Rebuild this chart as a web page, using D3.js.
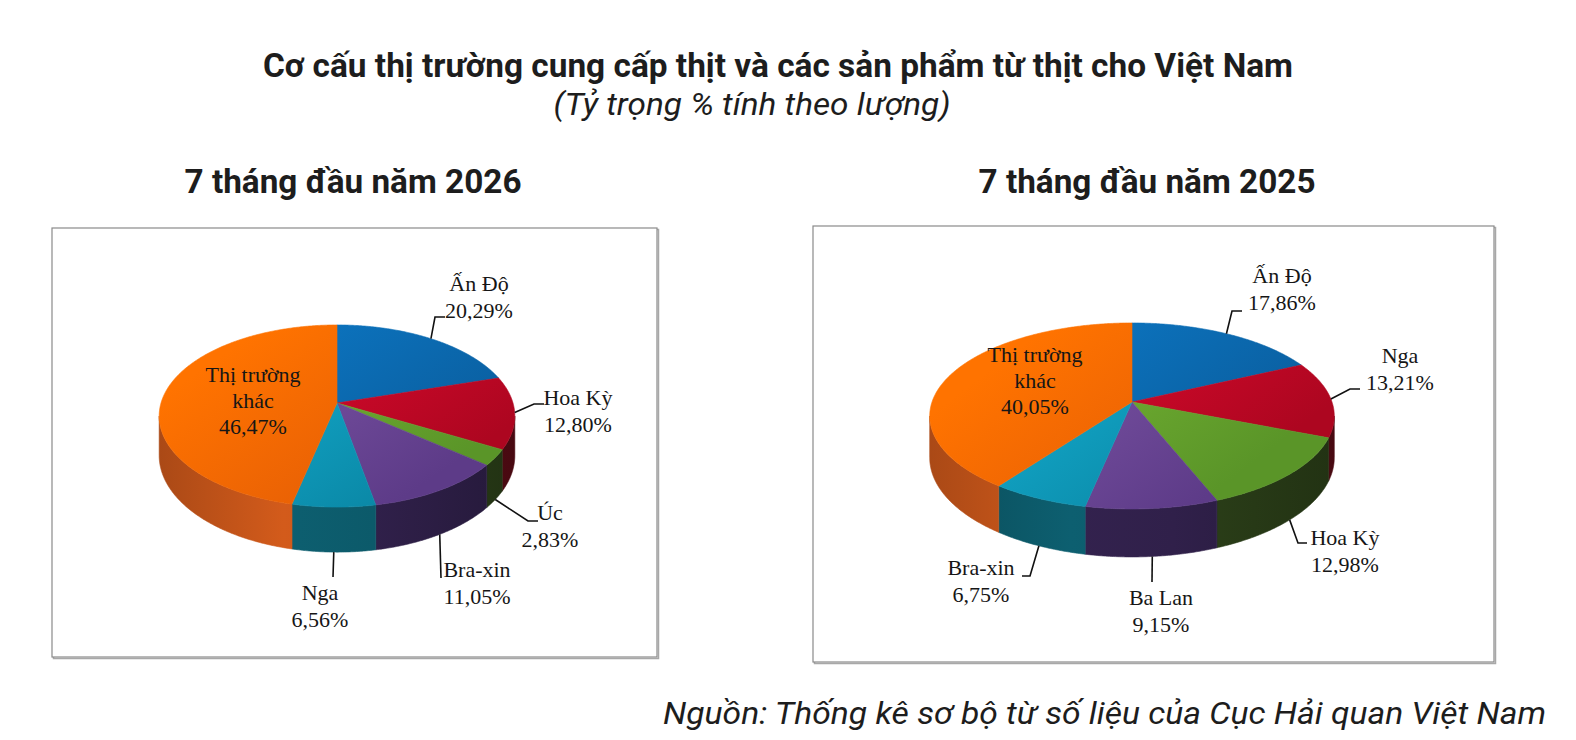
<!DOCTYPE html>
<html>
<head>
<meta charset="utf-8">
<script src="https://cdn.jsdelivr.net/npm/d3@7"></script>
<style>
  html, body { margin: 0; padding: 0; background: #fff; }
  svg { display: block; }
</style>
</head>
<body>
<svg id="chart" width="1576" height="740"></svg>
<script>
// ---------------- DATA ----------------
const chartTitle = "Cơ cấu thị trường cung cấp thịt và các sản phẩm từ thịt cho Việt Nam";
const chartSubtitle = "(Tỷ trọng % tính theo lượng)";
const sourceText = "Nguồn: Thống kê sơ bộ từ số liệu của Cục Hải quan Việt Nam";

const period2026 = "7 tháng đầu năm 2026";
const categories2026 = ["Ấn Độ", "Hoa Kỳ", "Úc", "Bra-xin", "Nga", "Thị trường khác"];
const values2026 = [20.29, 12.80, 2.83, 11.05, 6.56, 46.47];
const colors2026 = ["blue", "red", "green", "purple", "cyan", "orange"];

const period2025 = "7 tháng đầu năm 2025";
const categories2025 = ["Ấn Độ", "Nga", "Hoa Kỳ", "Ba Lan", "Bra-xin", "Thị trường khác"];
const values2025 = [17.86, 13.21, 12.98, 9.15, 6.75, 40.05];
const colors2025 = ["blue", "red", "green", "purple", "cyan", "orange"];

// ---------------- STYLE / LAYOUT ----------------
const palette = {
  blue:   { top0: "#0c76c2", top1: "#0a5c9c", side: "#0a3d6a" },
  red:    { top0: "#dc0a2e", top1: "#ad0620", side: "#5c0c16" },
  green:  { top0: "#76b434", top1: "#5a9528", side: "#2c4019" },
  purple: { top0: "#7c55a5", top1: "#5d3b88", side: "#30204a" },
  cyan:   { top0: "#14acce", top1: "#0a87a5", side: "#0c5a6a" },
  orange: { top0: "#ff7300", top1: "#e35c06", side: "#c8561a" }
};

const pies = [
  {
    id: "p26", title: period2026, titleX: 353, categories: categories2026, values: values2026, colors: colors2026,
    box: [52, 228, 657, 657],
    geo: { cx: 337, cy: 403, rx: 176, ry: 89.2, k: 0.143, depth: 38.6 },
    labels: [
      { tx: 479, ty: 291, elbow: [435, 317], end: [445, 317] },
      { tx: 578, ty: 405, elbow: [534, 404], end: [544, 404] },
      { tx: 550, ty: 520, elbow: [528, 521], end: [538, 521] },
      { tx: 477, ty: 577, elbow: null, end: [441, 578] },
      { tx: 320, ty: 600, elbow: null, end: [333, 577] },
      { tx: 253, ty: 382, inside: true }
    ]
  },
  {
    id: "p25", title: period2025, titleX: 1147, categories: categories2025, values: values2025, colors: colors2025,
    box: [813, 226, 1494, 662],
    geo: { cx: 1132, cy: 402, rx: 200, ry: 90.9, k: 0.150, depth: 40.8 },
    labels: [
      { tx: 1282, ty: 283, elbow: [1232, 311], end: [1242, 311] },
      { tx: 1400, ty: 363, elbow: [1350, 389], end: [1360, 389] },
      { tx: 1345, ty: 545, elbow: [1298, 543], end: [1307, 543] },
      { tx: 1161, ty: 605, elbow: null, end: [1152, 582] },
      { tx: 981, ty: 575, elbow: [1030, 576], end: [1022, 576] },
      { tx: 1035, ty: 362, inside: true }
    ]
  }
];

const fmt = v => d3.format(".2f")(v).replace(".", ",") + "%";

// ---------------- DRAW ----------------
const svg = d3.select("#chart");
const defs = svg.append("defs");

// Titles
svg.append("text")
  .attr("x", 778).attr("y", 77)
  .attr("text-anchor", "middle")
  .attr("font-family", "Roboto, sans-serif").attr("font-weight", 700)
  .attr("font-size", 34).attr("fill", "#1d1d1d")
  .attr("textLength", 1030).attr("lengthAdjust", "spacingAndGlyphs")
  .text(chartTitle);
svg.append("text")
  .attr("x", 752).attr("y", 115)
  .attr("text-anchor", "middle")
  .attr("font-family", "Roboto, sans-serif").attr("font-style", "italic").attr("font-weight", 400)
  .attr("font-size", 31).attr("fill", "#1d1d1d")
  .attr("textLength", 397).attr("lengthAdjust", "spacingAndGlyphs")
  .text(chartSubtitle);
svg.append("text")
  .attr("x", 1546).attr("y", 724)
  .attr("text-anchor", "end")
  .attr("font-family", "Roboto, sans-serif").attr("font-style", "italic").attr("font-weight", 400)
  .attr("font-size", 32).attr("fill", "#1d1d1d")
  .attr("textLength", 883).attr("lengthAdjust", "spacingAndGlyphs")
  .text(sourceText);

function proj(g, a, drop) {
  const c = Math.cos(a), s = Math.sin(a);
  const f = 1 / (1 + g.k * c);
  return [g.cx + g.rx * s * f, g.cy - g.ry * c * f + (drop ? g.depth * f : 0)];
}

function arcPts(g, a0, a1, drop) {
  const n = Math.max(2, Math.ceil((a1 - a0) / (Math.PI / 360)));
  return d3.range(n + 1).map(i => proj(g, a0 + (a1 - a0) * i / n, drop));
}

pies.forEach(P => {
  const g = P.geo;
  const [bx0, by0, bx1, by1] = P.box;

  // box with soft shadow
  svg.append("rect").attr("x", bx0 + 1.5).attr("y", by0 + 1.5)
    .attr("width", bx1 - bx0).attr("height", by1 - by0)
    .attr("fill", "none").attr("stroke", "#a8a8a8").attr("stroke-width", 1.5);
  svg.append("rect").attr("x", bx0).attr("y", by0)
    .attr("width", bx1 - bx0).attr("height", by1 - by0)
    .attr("fill", "#fff").attr("stroke", "#8a8a8a").attr("stroke-width", 1.2);

  // section title
  svg.append("text")
    .attr("x", P.titleX).attr("y", 193)
    .attr("text-anchor", "middle")
    .attr("font-family", "Roboto, sans-serif").attr("font-weight", 700)
    .attr("font-size", 34).attr("fill", "#1d1d1d")
    .attr("textLength", 337).attr("lengthAdjust", "spacingAndGlyphs")
    .text(P.title);

  // gradients
  const topY0 = g.cy - g.ry / (1 + g.k), topY1 = g.cy + g.ry / (1 - g.k);
  const xl = g.cx - g.rx * 1.02, xr = g.cx + g.rx * 1.02;
  Object.keys(palette).forEach(key => {
    const c = palette[key];
    const tg = defs.append("linearGradient").attr("id", `${P.id}-top-${key}`)
      .attr("gradientUnits", "userSpaceOnUse")
      .attr("x1", g.cx - g.rx * 0.4).attr("y1", topY0).attr("x2", g.cx + g.rx * 0.3).attr("y2", topY1);
    tg.append("stop").attr("offset", 0).attr("stop-color", c.top0);
    tg.append("stop").attr("offset", 1).attr("stop-color", c.top1);
    const sg = defs.append("linearGradient").attr("id", `${P.id}-side-${key}`)
      .attr("gradientUnits", "userSpaceOnUse")
      .attr("x1", xl).attr("y1", 0).attr("x2", xr).attr("y2", 0);
    sg.append("stop").attr("offset", 0).attr("stop-color", d3.color(c.side).darker(0.45));
    sg.append("stop").attr("offset", 0.35).attr("stop-color", d3.color(c.side).brighter(0.15));
    sg.append("stop").attr("offset", 0.6).attr("stop-color", c.side);
    sg.append("stop").attr("offset", 1).attr("stop-color", d3.color(c.side).darker(0.7));
  });

  const pie = d3.pie().sort(null).startAngle(0).endAngle(2 * Math.PI);
  const arcs = pie(P.values);

  const aS = Math.acos(-g.k), aE = 2 * Math.PI - Math.acos(-g.k);
  const line = d3.line();
  const layer = svg.append("g");

  // side walls
  arcs.forEach((d, i) => {
    const s0 = Math.max(d.startAngle, aS), s1 = Math.min(d.endAngle, aE);
    if (s1 <= s0) return;
    const topPts = arcPts(g, s0, s1, false);
    const botPts = arcPts(g, s0, s1, true).reverse();
    layer.append("path")
      .attr("d", line(topPts.concat(botPts)) + "Z")
      .attr("fill", `url(#${P.id}-side-${P.colors[i]})`)
      .attr("stroke", `url(#${P.id}-side-${P.colors[i]})`).attr("stroke-width", 0.6);
  });

  // top faces
  arcs.forEach((d, i) => {
    const pts = [[g.cx, g.cy]].concat(arcPts(g, d.startAngle, d.endAngle, false));
    layer.append("path")
      .attr("d", line(pts) + "Z")
      .attr("fill", `url(#${P.id}-top-${P.colors[i]})`)
      .attr("stroke", `url(#${P.id}-top-${P.colors[i]})`).attr("stroke-width", 0.6)
      .attr("stroke-linejoin", "round");
  });

  // labels & leader lines
  arcs.forEach((d, i) => {
    const L = P.labels[i];
    const mid = (d.startAngle + d.endAngle) / 2;
    if (!L.inside) {
      const front = Math.cos(mid) < -0.3;
      const start = proj(g, mid, front);
      const pts = [start];
      if (L.elbow) pts.push(L.elbow);
      pts.push(L.end);
      svg.append("path").attr("d", line(pts))
        .attr("fill", "none").attr("stroke", "#111").attr("stroke-width", 1.6);
    }
    const lines = L.inside
      ? ["Thị trường", "khác", fmt(P.values[i])]
      : [P.categories[i], fmt(P.values[i])];
    const lh = L.inside ? 26 : 27;
    const t = svg.append("text")
      .attr("text-anchor", "middle")
      .attr("font-family", "'Liberation Serif', 'DejaVu Serif', serif")
      .attr("font-size", 22).attr("fill", "#161616");
    lines.forEach((s, j) => {
      t.append("tspan").attr("x", L.tx).attr("y", L.ty + j * lh).text(s);
    });
  });
});
</script>
</body>
</html>
